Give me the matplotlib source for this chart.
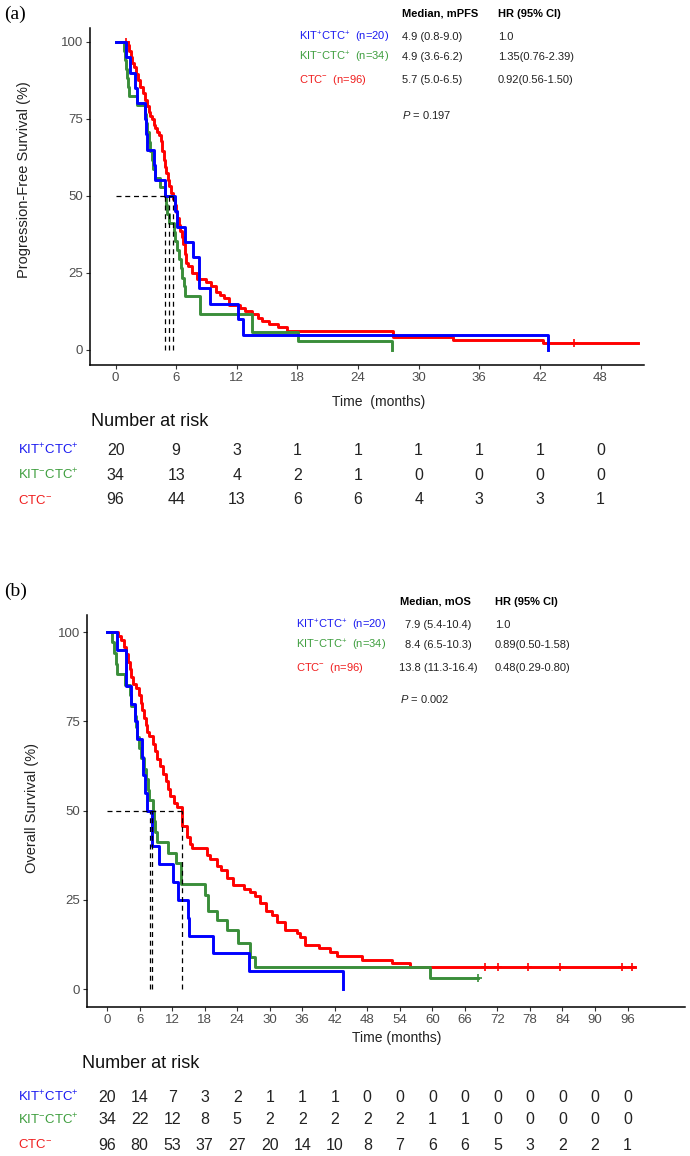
import matplotlib
matplotlib.use("Agg")
import matplotlib.pyplot as plt
from matplotlib.transforms import blended_transform_factory

plt.rcParams["font.family"] = ["Liberation Sans", "DejaVu Sans"]
plt.rcParams["mathtext.fontset"] = "custom"
plt.rcParams["mathtext.rm"] = "Liberation Sans"
plt.rcParams["mathtext.it"] = "Liberation Sans:italic"
plt.rcParams["mathtext.bf"] = "Liberation Sans:bold"

# ==================================================
# Data
# ==================================================
groups = [r"KIT$^{+}$CTC$^{+}$", r"KIT$^{-}$CTC$^{+}$", r"CTC$^{-}$"]
group_n = ["(n=20)", "(n=34)", "(n=96)"]

# (a) progression-free survival, step curves (time in months, survival in %)
pfs_kitpos_t = [0, 1.0, 1.45, 1.97, 2.1, 2.9, 3.0, 3.1, 3.85, 3.95, 4.9, 5.9, 6.1,
                6.87, 7.7, 8.25, 9.35, 12.15, 12.65, 42.8]
pfs_kitpos_s = [100, 95, 90, 85, 80, 75, 70, 65, 60, 55, 50, 45, 40,
                35, 30, 20, 15, 10, 5, 0]

pfs_kitneg_t = [0, 0.8, 0.9, 1.0, 1.1, 1.25, 1.35, 2.1, 2.95, 3.05, 3.15, 3.3, 3.4,
                3.65, 3.75, 3.95, 4.4, 4.9, 5.0, 5.1, 5.25, 5.8, 5.9, 6.1, 6.3,
                6.45, 6.6, 6.8, 6.9, 8.35, 13.5, 18.1, 27.4]
pfs_kitneg_s = [100, 97.1, 94.1, 91.2, 88.2, 85.3, 82.4, 79.4, 76.5, 73.5, 70.6, 67.6, 64.7,
                61.8, 58.8, 55.9, 52.9, 50.0, 47.1, 44.1, 41.2, 38.2, 35.3, 32.4, 29.4,
                26.5, 23.5, 20.6, 17.6, 11.8, 5.9, 2.9, 0]

pfs_ctcneg_t = [0, 1.2, 1.35, 1.5, 1.65, 1.8, 2.0, 2.2, 2.45, 2.7, 2.9, 3.1, 3.3, 3.45,
                3.6, 3.8, 3.95, 4.1, 4.3, 4.45, 4.6, 4.75, 4.9, 5.0, 5.15, 5.3, 5.5,
                5.7, 5.85, 6.0, 6.1, 6.25, 6.4, 6.55, 6.7, 6.85, 7.0, 7.2, 7.6, 8.1,
                9.0, 9.4, 9.9, 10.3, 10.7, 11.2, 12.3, 12.8, 13.5, 14.1, 14.5, 15.2,
                16.1, 17.0, 27.5, 33.4, 42.3, 51.7]
pfs_ctcneg_s = [100, 99.0, 97.0, 95.0, 93.0, 91.7, 89.6, 87.5, 85.4, 83.3, 81.2, 79.2, 77.1, 76.0,
                75.0, 72.9, 71.9, 70.8, 69.8, 67.7, 64.6, 61.5, 59.4, 57.3, 55.2, 53.1, 51.0,
                49.0, 46.9, 44.8, 42.7, 40.6, 38.5, 36.5, 34.4, 31.2, 28.1, 27.1, 25.0, 22.9,
                21.9, 20.8, 18.8, 17.7, 16.7, 14.6, 13.5, 12.5, 11.5, 10.4, 9.4, 8.3,
                7.3, 6.25, 4.17, 3.13, 2.08, 2.08]
pfs_ctcneg_cens_t = [1.0, 45.4]
pfs_ctcneg_cens_s = [100, 2.08]

pfs_median_x = [4.9, 5.3, 5.7]

# (b) overall survival
os_kitpos_t = [0, 1.85, 3.55, 4.5, 5.1, 5.5, 6.4, 6.7, 7.0, 7.4, 8.2, 9.5, 12.2,
               13.1, 14.9, 15.2, 19.6, 26.1, 43.5]
os_kitpos_s = [100, 95, 85, 80, 75, 70, 65, 60, 55, 50, 40, 35, 30,
               25, 20, 15, 10, 5, 0]

os_kitneg_t = [0, 1.0, 1.3, 1.6, 1.9, 3.3, 4.2, 4.5, 5.1, 5.4, 5.6, 5.9, 6.3, 6.9,
               7.2, 7.5, 7.8, 8.4, 8.6, 8.9, 9.2, 11.3, 12.8, 13.7, 18.1, 18.7,
               20.2, 22.1, 24.2, 26.4, 27.3, 59.6, 68.5]
os_kitneg_s = [100, 97.1, 94.1, 91.2, 88.2, 85.3, 82.4, 79.4, 76.5, 73.5, 70.6, 67.6, 64.7, 61.8,
               58.8, 55.9, 52.9, 50.0, 47.1, 44.1, 41.2, 38.2, 35.3, 29.4, 26.5, 22.0,
               19.3, 16.5, 12.9, 9.0, 6.2, 3.1, 3.1]
os_kitneg_cens_t = [68.5]
os_kitneg_cens_s = [3.1]

os_ctcneg_t = [0, 2.0, 2.5, 3.2, 3.5, 3.9, 4.2, 4.5, 4.8, 5.4, 5.8, 6.2, 6.5, 6.8, 7.1,
               7.4, 7.7, 8.4, 8.8, 9.3, 9.8, 10.3, 10.8, 11.2, 11.7, 12.3, 12.9, 13.8,
               14.7, 15.3, 15.6, 18.4, 19.0, 20.2, 21.0, 22.1, 23.3, 25.2, 26.4, 27.3,
               28.2, 29.3, 30.4, 31.3, 32.8, 35.0, 35.6, 36.5, 39.0, 41.1, 42.4, 47.0,
               52.5, 55.9, 97.4]
os_ctcneg_s = [100, 99.0, 97.9, 95.8, 93.8, 91.7, 89.6, 87.5, 85.4, 84.4, 82.3, 80.2, 78.1, 76.0, 74.0,
               71.9, 70.8, 68.8, 66.7, 64.6, 62.5, 60.4, 58.3, 56.2, 54.2, 52.1, 51.0, 45.8,
               42.7, 40.6, 39.6, 37.5, 36.5, 34.4, 33.3, 31.2, 29.2, 28.1, 27.1, 26.0,
               24.0, 21.9, 20.8, 18.8, 16.7, 15.6, 14.6, 12.5, 11.5, 10.4, 9.4, 8.3,
               7.3, 6.25, 6.25]
os_ctcneg_cens_t = [69.7, 72.2, 77.7, 83.6, 95.0, 96.8]
os_ctcneg_cens_s = [6.25, 6.25, 6.25, 6.25, 6.25, 6.25]

os_median_x = [8.0, 8.3, 13.8]

# legend tables
pfs_medians = ["4.9 (0.8-9.0)", "4.9 (3.6-6.2)", "5.7 (5.0-6.5)"]
pfs_hr = ["1.0", "1.35(0.76-2.39)", "0.92(0.56-1.50)"]
os_medians = ["7.9 (5.4-10.4)", "8.4 (6.5-10.3)", "13.8 (11.3-16.4)"]
os_hr = ["1.0", "0.89(0.50-1.58)", "0.48(0.29-0.80)"]

# number at risk
pfs_times = [0, 6, 12, 18, 24, 30, 36, 42, 48]
pfs_risk = [
    [20, 9, 3, 1, 1, 1, 1, 1, 0],
    [34, 13, 4, 2, 1, 0, 0, 0, 0],
    [96, 44, 13, 6, 6, 4, 3, 3, 1],
]
os_times = [0, 6, 12, 18, 24, 30, 36, 42, 48, 54, 60, 66, 72, 78, 84, 90, 96]
os_risk = [
    [20, 14, 7, 3, 2, 1, 1, 1, 0, 0, 0, 0, 0, 0, 0, 0, 0],
    [34, 22, 12, 8, 5, 2, 2, 2, 2, 2, 1, 1, 0, 0, 0, 0, 0],
    [96, 80, 53, 37, 27, 20, 14, 10, 8, 7, 6, 6, 5, 3, 2, 2, 1],
]

line_colors = ["#0000FF", "#3A8E3A", "#FF0000"]
text_colors = ["#1A1AF0", "#3E9E3E", "#F01E1E"]

# ==================================================
# Figure (pixel helpers)
# ==================================================
W, H = 690, 1156
fig = plt.figure(figsize=(W / 100, H / 100), dpi=100)


def fx(px):
    return px / W


def fy(py):
    return 1 - py / H


def style_axes(ax, xticks):
    for side in ["top", "right"]:
        ax.spines[side].set_visible(False)
    for side in ["left", "bottom"]:
        ax.spines[side].set_linewidth(1.1)
    ax.set_xticks(xticks)
    ax.set_yticks([0, 25, 50, 75, 100])
    ax.tick_params(length=3, width=0.8, color="#333333", labelcolor="#4D4D4D",
                   labelsize=9.5, pad=2)


def draw_panel(ax, curves, cens, med_x, med_end):
    # median guide lines
    ax.plot([0, med_end], [50, 50], ls=(0, (4, 3)), color="black", lw=0.9, zorder=5)
    for m in med_x:
        ax.plot([m, m], [0, 50], ls=(0, (4, 3)), color="black", lw=0.9, zorder=5)
    # red below, blue on top
    for i in [2, 1, 0]:
        t, s = curves[i]
        ax.step(t, s, where="post", color=line_colors[i], lw=2.1, zorder=3)
        if cens[i] is not None:
            ax.plot(cens[i][0], cens[i][1], ls="none", marker="+", ms=6, mew=1.2,
                    color=line_colors[i], zorder=3)


# ==================================================
# (a) Progression-free survival
# ==================================================
ax_a = fig.add_axes([fx(90), fy(365), (644 - 90) / W, (365 - 28) / H])
ax_a.set_xlim(-2.53, 52.3)
ax_a.set_ylim(-4.9, 104.5)
style_axes(ax_a, pfs_times)
draw_panel(
    ax_a,
    [(pfs_kitpos_t, pfs_kitpos_s), (pfs_kitneg_t, pfs_kitneg_s), (pfs_ctcneg_t, pfs_ctcneg_s)],
    [None, None, (pfs_ctcneg_cens_t, pfs_ctcneg_cens_s)],
    pfs_median_x, max(pfs_median_x),
)

fig.text(fx(4), fy(14), "(a)", family="Liberation Serif", fontsize=14, va="center")
fig.text(fx(24), fy(180), "Progression-Free Survival (%)", rotation=90,
         fontsize=10.5, color="#222222", ha="center", va="center")
fig.text(fx(379), fy(402), "Time  (months)", fontsize=10, color="#222222",
         ha="center", va="center")

fig.text(fx(402), fy(14), "Median, mPFS", fontsize=8, weight="bold", va="center")
fig.text(fx(498), fy(14), "HR (95% CI)", fontsize=8, weight="bold", va="center")
for i, y in enumerate([37, 57, 80]):
    fig.text(fx(299), fy(y), groups[i] + "  " + group_n[i], fontsize=8,
             color=text_colors[i], va="center")
    fig.text(fx(402), fy(y), pfs_medians[i], fontsize=8, color="#222222", va="center")
    fig.text(fx(498), fy(y), pfs_hr[i], fontsize=8, color="#222222", va="center")
fig.text(fx(402), fy(115), r"$P$ = 0.197", fontsize=8, color="#222222", va="center")

# risk table (a)
fig.text(fx(91), fy(422), "Number at risk", fontsize=13, color="#111111", va="center")
trans_a = blended_transform_factory(ax_a.transData, fig.transFigure)
for i, y in enumerate([450, 475, 500]):
    fig.text(fx(18), fy(y), groups[i], fontsize=9.5, color=text_colors[i], va="center")
    for t, n in zip(pfs_times, pfs_risk[i]):
        ax_a.text(t, fy(y), str(n), transform=trans_a, fontsize=11.5, color="#222222",
                  ha="center", va="center", clip_on=False)

# ==================================================
# (b) Overall survival
# ==================================================
ax_b = fig.add_axes([fx(87), fy(1007), (685 - 87) / W, (1007 - 615) / H])
ax_b.set_xlim(-3.7, 106.6)
ax_b.set_ylim(-5.0, 104.8)
style_axes(ax_b, os_times)
draw_panel(
    ax_b,
    [(os_kitpos_t, os_kitpos_s), (os_kitneg_t, os_kitneg_s), (os_ctcneg_t, os_ctcneg_s)],
    [None, (os_kitneg_cens_t, os_kitneg_cens_s), (os_ctcneg_cens_t, os_ctcneg_cens_s)],
    os_median_x, max(os_median_x),
)

fig.text(fx(4), fy(591), "(b)", family="Liberation Serif", fontsize=14, va="center")
fig.text(fx(32), fy(808), "Overall Survival (%)", rotation=90,
         fontsize=10.5, color="#222222", ha="center", va="center")
fig.text(fx(397), fy(1038), "Time (months)", fontsize=10, color="#222222",
         ha="center", va="center")

fig.text(fx(435), fy(602), "Median, mOS", fontsize=8, weight="bold", ha="center", va="center")
fig.text(fx(495), fy(602), "HR (95% CI)", fontsize=8, weight="bold", va="center")
for i, y in enumerate([625, 645, 668]):
    fig.text(fx(296), fy(y), groups[i] + "  " + group_n[i], fontsize=8,
             color=text_colors[i], va="center")
    fig.text(fx(438), fy(y), os_medians[i], fontsize=8, color="#222222",
             ha="center", va="center")
    fig.text(fx(495), fy(y), os_hr[i], fontsize=8, color="#222222", va="center")
fig.text(fx(400), fy(699), r"$P$ = 0.002", fontsize=8, color="#222222", va="center")

# risk table (b)
fig.text(fx(82), fy(1063), "Number at risk", fontsize=13, color="#111111", va="center")
trans_b = blended_transform_factory(ax_b.transData, fig.transFigure)
for i, y in enumerate([1097, 1120, 1145]):
    fig.text(fx(18), fy(y), groups[i], fontsize=9.5, color=text_colors[i], va="center")
    for t, n in zip(os_times, os_risk[i]):
        ax_b.text(t, fy(y), str(n), transform=trans_b, fontsize=11.5, color="#222222",
                  ha="center", va="center", clip_on=False)

fig.savefig("out.png", dpi=100)
